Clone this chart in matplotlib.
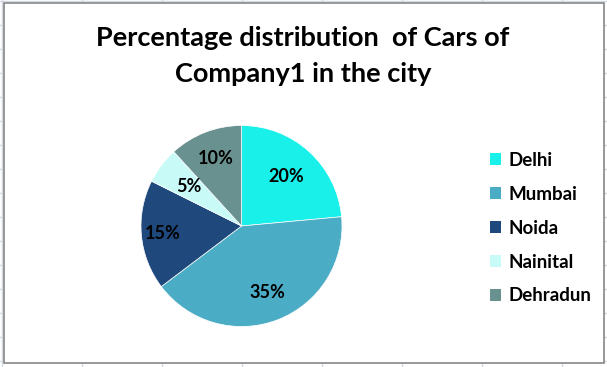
import numpy as np
import matplotlib
matplotlib.use("Agg")
from matplotlib import pyplot as plt
from matplotlib.lines import Line2D
from matplotlib.patches import Rectangle

# data
cities = ["Delhi", "Mumbai", "Noida", "Nainital", "Dehradun"]
shares = [20, 35, 15, 5, 10]
title = "Percentage distribution  of Cars of\nCompany1 in the city"

colors = ["#19F0E9", "#4BACC6", "#1F487C", "#C8FAF7", "#69918F"]
label_radius = [0.66, 0.71, 0.79, 0.66, 0.72]

W, H = 607, 367
plt.rcParams['font.family'] = ['Lato', 'DejaVu Sans']
fig = plt.figure(figsize=(W / 100, H / 100), dpi=100)
fig.patch.set_facecolor("white")

# spreadsheet grid behind the chart
grid_col = "#D4D9E4"
for x in np.arange(2, W, 80):
    fig.add_artist(Line2D([x / W, x / W], [0, 1], color=grid_col, lw=1, zorder=-3))
for y in np.arange(1, H, 24):
    fig.add_artist(Line2D([0, 1], [1 - y / H, 1 - y / H], color=grid_col, lw=1, zorder=-3))

# chart area
fig.add_artist(Rectangle((4 / W, 1 - 363 / H), 600 / W, 360 / H, transform=fig.transFigure,
                         facecolor="white", edgecolor="#868686", lw=1.2, zorder=-2))

fig.text(303 / W, 1 - 56 / H, title, ha="center", va="center", fontsize=19.5,
         fontweight="bold", linespacing=1.6)

cx, cy, r = 241.5, 226, 100.5
ax = fig.add_axes([(cx - r) / W, 1 - (cy + r) / H, 2 * r / W, 2 * r / H])
total = sum(shares)
wedges, texts, autotexts = ax.pie(shares, colors=colors, startangle=90, counterclock=False,
                                  autopct=lambda p: "%d%%" % round(p * total / 100),
                                  pctdistance=0.7,
                                  wedgeprops=dict(edgecolor="white", linewidth=0.5),
                                  textprops=dict(fontsize=13, fontweight="bold", color="black"))
ax.set_xlim(-1, 1)
ax.set_ylim(-1, 1)

# move labels to Excel best-fit positions
for w, t, d in zip(wedges, autotexts, label_radius):
    ang = np.deg2rad((w.theta1 + w.theta2) / 2)
    t.set_position((d * np.cos(ang), d * np.sin(ang)))

leg = fig.legend(wedges, cities, loc="upper left", bbox_to_anchor=(473 / W, 1 - 135 / H),
                 frameon=False, handlelength=0.6, handleheight=0.6, handletextpad=0.4,
                 labelspacing=0.9, prop=dict(size=13.5, weight="bold"))
for h in leg.legend_handles:
    h.set_edgecolor("none")

fig.savefig("out.png", dpi=100)
